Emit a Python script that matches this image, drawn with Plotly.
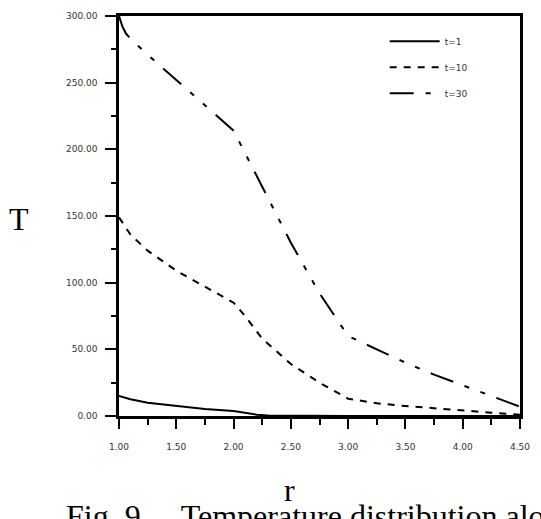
import plotly.graph_objects as go

# ---- data ----
r_t1 = [1.0, 1.1, 1.25, 1.5, 1.75, 2.0, 2.1, 2.2, 2.3, 2.5, 3.0, 3.5, 4.0, 4.5]
T_t1 = [15.0, 12.5, 10.0, 7.4, 5.3, 3.7, 2.3, 1.0, 0.4, 0.15, 0.05, 0.02, 0.01, 0.0]

r_t10 = [1.0, 1.05, 1.1, 1.25, 1.5, 1.75, 2.0, 2.1, 2.25, 2.5, 2.75, 3.0, 3.25, 3.5, 3.75, 4.0, 4.25, 4.5]
T_t10 = [149, 142, 136, 124, 109, 97, 85, 75, 58, 39, 25, 13, 9.5, 7.5, 5.7, 4.0, 2.5, 1.0]

r_t30 = [1.0, 1.03, 1.06, 1.1, 1.25, 1.5, 1.75, 2.0, 2.25, 2.5, 2.75, 3.0, 3.25, 3.5, 3.75, 4.0, 4.25, 4.5]
T_t30 = [300, 292, 287, 283, 271, 252, 233, 214, 172, 130, 92, 60, 50, 40, 31, 23, 15, 7]

series_names = ["t=1", "t=10", "t=30"]

x_ticks = [1.0, 1.5, 2.0, 2.5, 3.0, 3.5, 4.0, 4.5]
x_ticktext = ["1.00", "1.50", "2.00", "2.50", "3.00", "3.50", "4.00", "4.50"]
x_minor = [1.25, 1.75, 2.25, 2.75, 3.25, 3.75, 4.25]
y_ticks = [0, 50, 100, 150, 200, 250, 300]
y_ticktext = ["0.00", "50.00", "100.00", "150.00", "200.00", "250.00", "300.00"]
y_minor = [25, 75, 125, 175, 225, 275]

# ---- figure ----
W, H = 541, 519
L, R, T, B = 119, 19, 11, 103
pw, ph = W - L - R, H - T - B

def px(xp):
    return (xp - L) / pw

def py(yp):
    return (H - B - yp) / ph

dashes = ["solid", "7px,7px", "24px,12px,5px,12px,5px,12px"]
fig = go.Figure()
for name, xs, ys, dash in zip(series_names, [r_t1, r_t10, r_t30], [T_t1, T_t10, T_t30], dashes):
    fig.add_trace(go.Scatter(x=xs, y=ys, mode="lines", name=name, legendgroup=name,
                             line=dict(color="black", width=2, dash=dash)))
# empty traces to activate the tick overlay axes
fig.add_trace(go.Scatter(x=[], y=[], xaxis="x2", yaxis="y2", showlegend=False, hoverinfo="skip"))
fig.add_trace(go.Scatter(x=[], y=[], xaxis="x3", yaxis="y3", showlegend=False, hoverinfo="skip"))

tickfont = dict(family="DejaVu Sans", size=9, color="#333")

def tick_axis(rng, vals, overlay, anchor, side, ln):
    return dict(range=rng, overlaying=overlay, anchor=anchor, side=side,
                tickmode="array", tickvals=vals, showticklabels=False,
                showgrid=False, zeroline=False, showline=False,
                ticks="outside", ticklen=ln, tickwidth=2, tickcolor="black")

fig.update_layout(
    width=W, height=H,
    margin=dict(l=L, r=R, t=T, b=B, pad=0),
    paper_bgcolor="white", plot_bgcolor="white",
    showlegend=True,
    legend=dict(x=px(386), y=py(22), xanchor="left", yanchor="top",
                bgcolor="rgba(0,0,0,0)", font=tickfont, tracegroupgap=7,
                itemwidth=50),
    xaxis=dict(range=[1, 4.5], tickmode="array", tickvals=x_ticks, ticktext=x_ticktext,
               tickfont=tickfont, showgrid=False, zeroline=False, showline=True,
               linecolor="black", linewidth=2.5, mirror=True, ticks="",
               ticklabelstandoff=20),
    yaxis=dict(range=[0, 300], tickmode="array", tickvals=y_ticks, ticktext=y_ticktext,
               tickfont=tickfont, showgrid=False, zeroline=False, showline=True,
               linecolor="black", linewidth=2.5, mirror=True, ticks="",
               ticklabelstandoff=17),
    xaxis2=tick_axis([1, 4.5], x_minor, "x", "y", "bottom", 8),
    yaxis2=tick_axis([0, 300], y_minor, "y", "x", "left", 7),
    xaxis3=tick_axis([1, 4.5], x_ticks, "x", "y", "bottom", 12),
    yaxis3=tick_axis([0, 300], y_ticks, "y", "x", "left", 13),
)

serif = dict(family="Liberation Serif", size=32, color="black")
fig.add_annotation(text="T", xref="paper", yref="paper", x=px(19), y=py(217),
                   xanchor="center", yanchor="middle", showarrow=False, font=serif)
fig.add_annotation(text="r", xref="paper", yref="paper", x=px(290), y=py(491),
                   xanchor="center", yanchor="middle", showarrow=False, font=serif)
fig.add_annotation(text="Fig. 9\u00a0\u00a0\u00a0\u00a0\u00a0Temperature distribution along",
                   xref="paper", yref="paper", x=px(64), y=py(517),
                   xanchor="left", yanchor="middle", showarrow=False, font=serif)

fig.write_html("out.html")
